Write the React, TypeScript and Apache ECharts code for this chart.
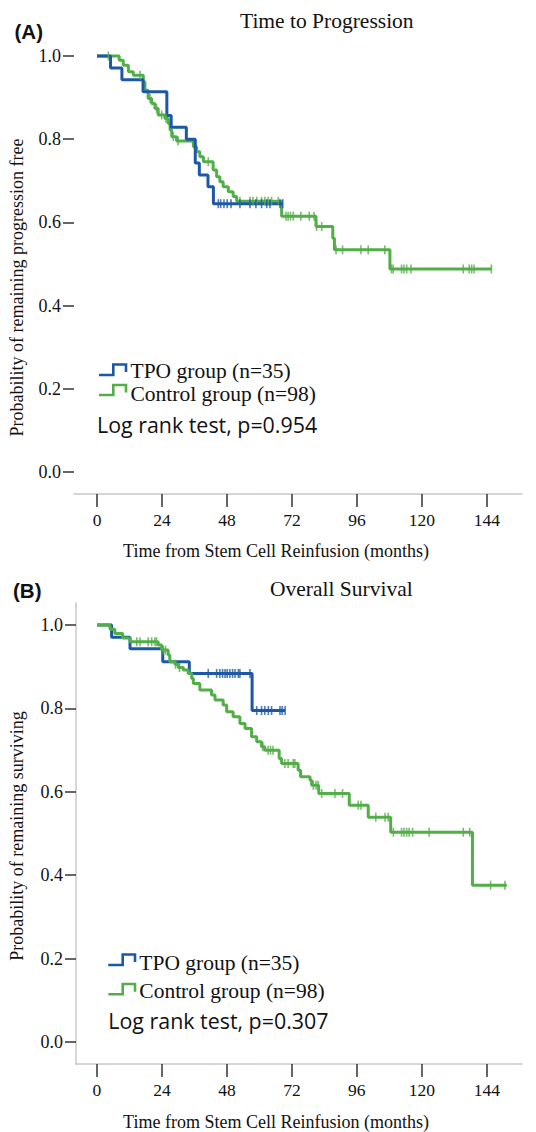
import React, { useEffect, useRef } from "react";
import * as echarts from "echarts";

// ---------- data ----------
const xTicks = [0, 24, 48, 72, 96, 120, 144];
const yTicks = [0, 0.2, 0.4, 0.6, 0.8, 1.0];

const panelTitles = ["Time to Progression", "Overall Survival"];
const panelLetters = ["(A)", "(B)"];
const yTitles = ["Probability of remaining progression free", "Probability of remaining surviving"];
const xTitle = "Time from Stem Cell Reinfusion (months)";
const groupNames = ["TPO group (n=35)", "Control group (n=98)"];
const logRankTexts = ["Log rank test, p=0.954", "Log rank test, p=0.307"];

// Time to progression – TPO group: [month, survival]
const ttpTpoCurve: [number, number][] = [
  [0, 1], [5, 0.971], [9.2, 0.943], [17, 0.914], [25.8, 0.857], [27.4, 0.829], [33, 0.8],
  [36.3, 0.743], [37.8, 0.714], [41, 0.686], [43, 0.645], [68.6, 0.645],
];
const ttpTpoCensor = [44.8, 45.7, 46.9, 48.1, 49.5, 52.8, 56.5, 58.7, 60.8, 62.7, 63.9, 67.6, 68.6];

// Time to progression – Control group
const ttpCtrlCurve: [number, number][] = [
  [0, 1], [8.2, 0.99], [9.7, 0.978], [11.6, 0.962], [13.4, 0.954], [17.1, 0.938], [17.7, 0.918],
  [18.9, 0.898], [20.2, 0.886], [21.4, 0.874], [22.6, 0.858], [25.1, 0.85], [26.3, 0.838],
  [27, 0.822], [27.6, 0.806], [29.4, 0.796], [35.6, 0.782], [36.8, 0.77], [38, 0.758],
  [39.3, 0.746], [42.9, 0.726], [44.2, 0.71], [45.4, 0.698], [46.6, 0.686], [48.5, 0.674],
  [50.3, 0.662], [51.6, 0.651], [68.2, 0.615], [80.9, 0.59], [87.1, 0.562], [87.7, 0.534],
  [108.2, 0.488], [145.7, 0.488],
];
const ttpCtrlCensor = [
  4.2, 15.9, 19.6, 22, 23.9, 25.5, 28.2, 30, 41.1, 52.8, 56.5, 57.6, 59, 60.8, 62, 63.2, 64.5, 67,
  69.8, 70.6, 71.5, 72.5, 75.3, 78.4, 80.2, 81.1, 83, 88.3, 90.7, 97.5, 100.2, 106.3, 108.8, 109.4,
  112.5, 113.4, 114.4, 116, 135.3, 137.5, 138.4, 139.3, 145.7,
];

// Overall survival – TPO group
const osTpoCurve: [number, number][] = [
  [0, 1], [5.4, 0.971], [12.2, 0.943], [24.3, 0.912], [34.1, 0.884], [57.3, 0.795], [69.5, 0.795],
];
const osTpoCensor = [
  41.1, 44.2, 45.4, 46.4, 47.3, 48.1, 49.1, 50.1, 51, 52.2, 52.8, 56.5, 59, 60.8, 62, 63.3, 64.5,
  67.6, 68.4, 69.5,
];

// Overall survival – Control group
const osCtrlCurve: [number, number][] = [
  [0, 1], [4.8, 0.99], [6.6, 0.98], [9.5, 0.969], [12.2, 0.96], [22.6, 0.952], [23.9, 0.94],
  [26.3, 0.928], [26.9, 0.912], [28.8, 0.906], [30, 0.898], [31.9, 0.892], [33.7, 0.884],
  [35, 0.872], [35.6, 0.86], [38, 0.844], [42.3, 0.832], [43.6, 0.82], [46.6, 0.808],
  [47.9, 0.792], [50.3, 0.78], [52.8, 0.764], [54.7, 0.752], [57.1, 0.732], [59, 0.72],
  [60.8, 0.708], [62, 0.7], [67.3, 0.68], [68.2, 0.668], [74.3, 0.652], [75.2, 0.636],
  [78.7, 0.628], [79.3, 0.616], [81.9, 0.596], [93.2, 0.568], [100.2, 0.539], [108.5, 0.503],
  [138.7, 0.376], [151.4, 0.376],
];
const osCtrlCensor = [
  14.7, 15.9, 18.9, 20.2, 21.4, 22, 24.5, 25.3, 29, 30.5, 61.3, 63.2, 64.1, 65, 69.4, 70.6, 72.5,
  73.1, 79.9, 80.9, 81.7, 83, 87.9, 90.7, 96.5, 97.5, 103, 106.4, 107.6, 109.5, 112.5, 113.4,
  114.4, 115.3, 116.6, 122.7, 135.3, 137.7, 145.4, 150.7,
];

// ---------- styling ----------
const BLUE = "#1d58a8";
const GREEN = "#52ae47";
const SERIF = "'Liberation Serif', 'Times New Roman', serif";
const SANS = "'Open Sans', 'Liberation Sans', sans-serif";
const AXIS_GRAY = "#c8c8c8";
const TICK = "#333333";

function valueAt(curve: [number, number][], t: number): number {
  let v = curve[0][1];
  for (const [ct, cv] of curve) {
    if (ct <= t) v = cv;
    else break;
  }
  return v;
}

function curveSeries(curve: [number, number][], color: string, idx: number, z: number) {
  return {
    type: "line",
    xAxisIndex: idx,
    yAxisIndex: idx,
    data: curve,
    step: "end",
    showSymbol: false,
    symbol: "none",
    lineStyle: { color, width: 3 },
    itemStyle: { color },
    silent: true,
    z,
  };
}

function censorSeries(curve: [number, number][], censor: number[], color: string, idx: number, z: number) {
  return {
    type: "scatter",
    xAxisIndex: idx,
    yAxisIndex: idx,
    data: censor.map((t) => [t, valueAt(curve, t)]),
    symbol: "rect",
    symbolSize: [1.6, 9],
    itemStyle: { color },
    silent: true,
    z,
  };
}

function makeXAxis(idx: number, min: number) {
  return {
    type: "value",
    gridIndex: idx,
    min,
    max: 157,
    axisLine: { show: true, onZero: false, lineStyle: { color: AXIS_GRAY, width: 1.5 } },
    axisTick: { show: true, customValues: xTicks, length: 13, lineStyle: { color: TICK, width: 1.5 } },
    axisLabel: {
      show: true,
      customValues: xTicks,
      margin: 17,
      fontFamily: SERIF,
      fontSize: 17.5,
      color: "#111",
    },
    splitLine: { show: false },
  };
}

function makeYAxis(idx: number, showLine: boolean) {
  return {
    type: "value",
    gridIndex: idx,
    min: -0.053,
    max: 1.053,
    axisLine: { show: showLine, onZero: false, lineStyle: { color: AXIS_GRAY, width: 1.5 } },
    axisTick: { show: true, customValues: yTicks, length: 11, lineStyle: { color: TICK, width: 1.5 } },
    axisLabel: {
      show: true,
      customValues: yTicks,
      margin: 13,
      fontFamily: SERIF,
      fontSize: 18,
      color: "#111",
      formatter: (v: number) => v.toFixed(1),
    },
    splitLine: { show: false },
  };
}

function txt(x: number, y: number, text: string, font: any, extra: any = {}) {
  return {
    type: "text",
    x,
    y,
    silent: true,
    ...extra,
    style: {
      text,
      fill: "#111",
      align: "left",
      verticalAlign: "middle",
      ...font,
    },
  };
}

function legendIcon(x0: number, xm: number, x1: number, low: number, high: number, end: number, color: string) {
  return {
    type: "polyline",
    silent: true,
    shape: { points: [[x0, low], [xm, low], [xm, high], [x1, high], [x1, end]] },
    style: { stroke: color, lineWidth: 2.6, fill: null },
  };
}

export default function App() {
  const ref = useRef<HTMLDivElement>(null);

  useEffect(() => {
    document.body.style.margin = "0";
    if (!ref.current) return;
    const chart = echarts.init(ref.current, undefined, { renderer: "svg" });

    const serif = (size: number) => ({ fontFamily: SERIF, fontSize: size });
    const bold = { fontFamily: "'Liberation Sans', Arial, sans-serif", fontSize: 20.5, fontWeight: "bold" };

    const option: any = {
      animation: false,
      backgroundColor: "#ffffff",
      grid: [
        { left: 74, right: 14, top: 34, height: 460, outerBoundsMode: "none", containLabel: false },
        { left: 76, right: 14, top: 603, height: 461, outerBoundsMode: "none", containLabel: false },
      ],
      xAxis: [makeXAxis(0, -8.5), makeXAxis(1, -7.75)],
      yAxis: [makeYAxis(0, false), makeYAxis(1, true)],
      series: [
        curveSeries(ttpCtrlCurve, GREEN, 0, 2),
        curveSeries(ttpTpoCurve, BLUE, 0, 3),
        censorSeries(ttpCtrlCurve, ttpCtrlCensor, GREEN, 0, 4),
        censorSeries(ttpTpoCurve, ttpTpoCensor, BLUE, 0, 5),
        curveSeries(osTpoCurve, BLUE, 1, 2),
        curveSeries(osCtrlCurve, GREEN, 1, 3),
        censorSeries(osTpoCurve, osTpoCensor, BLUE, 1, 4),
        censorSeries(osCtrlCurve, osCtrlCensor, GREEN, 1, 5),
      ],
      graphic: [
        // panel letters
        txt(14.5, 31.5, panelLetters[0], bold),
        txt(13, 590, panelLetters[1], bold),
        // titles
        txt(240, 21, panelTitles[0], serif(21.5)),
        txt(270, 589, panelTitles[1], serif(21.5)),
        // y titles
        txt(16.5, 287.5, yTitles[0], { ...serif(18), align: "center" }, { rotation: Math.PI / 2 }),
        txt(16.5, 836, yTitles[1], { ...serif(18), align: "center" }, { rotation: Math.PI / 2 }),
        // x titles
        txt(276, 550.5, xTitle, { ...serif(18), align: "center" }),
        txt(276, 1122, xTitle, { ...serif(18), align: "center" }),
        // legend A
        legendIcon(99, 113.3, 126, 375, 364.5, 372, BLUE),
        txt(130.5, 370.8, groupNames[0], serif(21.5)),
        legendIcon(99, 113.3, 126, 395, 385, 392.5, GREEN),
        txt(130.5, 393.5, groupNames[1], serif(21.5)),
        txt(97, 424.5, logRankTexts[0], { fontFamily: SANS, fontSize: 21.4 }),
        // legend B
        legendIcon(108.3, 122.7, 135, 965, 954.5, 962, BLUE),
        txt(139.3, 962.5, groupNames[0], serif(21.5)),
        legendIcon(108.3, 122.7, 135, 994.3, 984, 991.7, GREEN),
        txt(139.3, 990.7, groupNames[1], serif(21.5)),
        txt(108.3, 1020.7, logRankTexts[1], { fontFamily: SANS, fontSize: 21.4 }),
      ],
    };

    chart.setOption(option);
    return () => chart.dispose();
  }, []);

  return <div ref={ref} style={{ width: 536, height: 1132 }} />;
}
